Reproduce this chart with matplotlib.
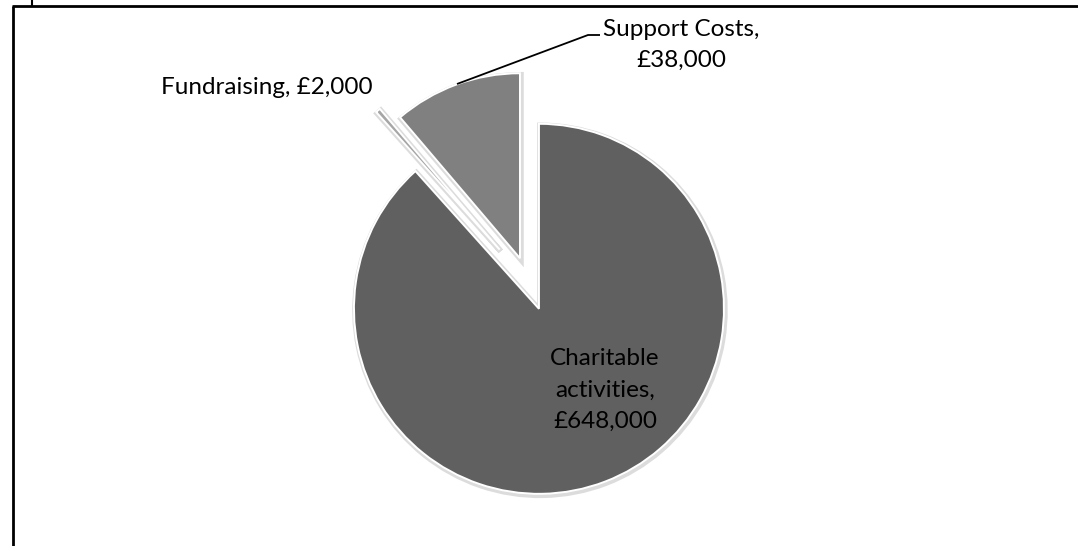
import matplotlib
matplotlib.use("Agg")
import matplotlib.pyplot as plt

# Data (labels as printed; slice sweep in degrees as drawn in the picture)
categories = ["Charitable activities", "Fundraising", "Support Costs"]
label_values = [648000, 2000, 38000]
slice_degrees = [318.1, 1.5, 40.4]
explode_px = [27, 45, 27]
colors = ["#606060", "#a6a6a6", "#808080"]

W, H = 1078, 546
plt.rcParams['font.family'] = ['Lato', 'DejaVu Sans']

fig = plt.figure(figsize=(W / 100, H / 100), dpi=100)
ax = fig.add_axes([0, 0, 1, 1])

cx, cy, R = 529.3, H - 283.6, 185

# soft shadow
ax.pie(slice_degrees, explode=explode_px, startangle=90, counterclock=False,
       radius=R, center=(cx + 1.0, cy - 1.5), colors=["none"] * 3,
       wedgeprops=dict(edgecolor="#dcdcdc", linewidth=4.0), frame=True)
# main pie
ax.pie(slice_degrees, explode=explode_px, startangle=90, counterclock=False,
       radius=R, center=(cx, cy), colors=colors,
       wedgeprops=dict(edgecolor="white", linewidth=1.4), frame=True)
ax.set_xlim(0, W)
ax.set_ylim(0, H)
ax.set_aspect("auto")
ax.axis("off")

def fmt(v):
    return "\u00a3{:,}".format(v)

fs = 17.5
ax.text(605, H - 390, "Charitable\nactivities,\n" + fmt(label_values[0]),
        ha="center", va="center", fontsize=fs, color="black", linespacing=1.62)
ax.text(161, H - 87, "Fundraising, " + fmt(label_values[1]),
        ha="left", va="center", fontsize=fs, color="black")
ax.text(681, H - 45, "Support Costs,\n" + fmt(label_values[2]),
        ha="center", va="center", fontsize=fs, color="black", linespacing=1.55)

# leader line for Support Costs
ax.plot([457, 588, 600], [H - 84, H - 35, H - 35], color="black", lw=1.3,
        solid_capstyle="butt")

# frame lines
ax.plot([12, W], [H - 5.5, H - 5.5], color="black", lw=2.0, solid_capstyle="butt")
ax.plot([13, 13], [0, H - 5.5], color="black", lw=2.0, solid_capstyle="butt")
ax.plot([32, 32], [H - 5.5, H], color="black", lw=1.5, solid_capstyle="butt")

fig.savefig("out.png", dpi=100, facecolor="white")
